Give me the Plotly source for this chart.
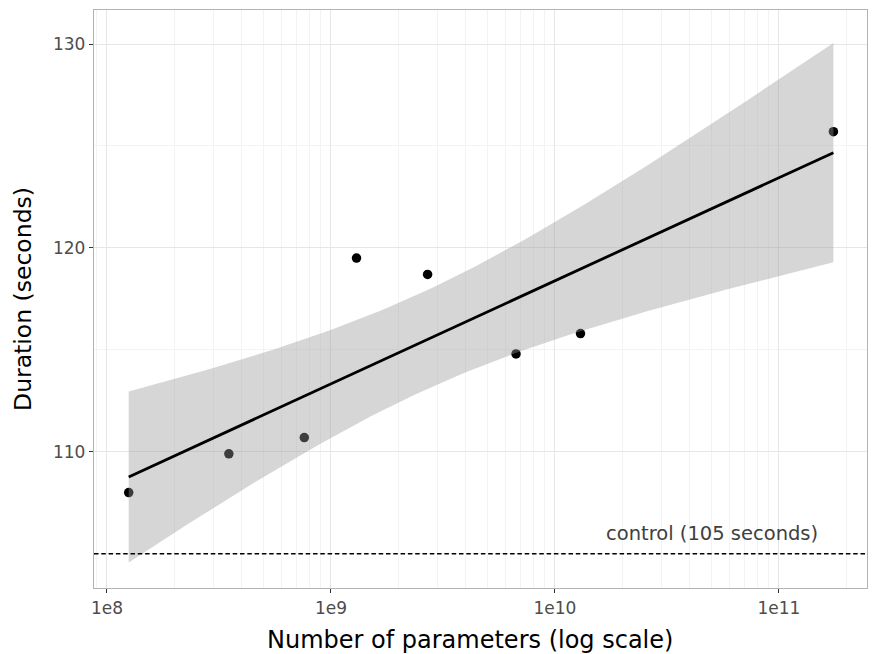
import numpy as np
import plotly.graph_objects as go

# Data
params = [1.25e8, 3.5e8, 7.6e8, 1.3e9, 2.7e9, 6.7e9, 1.3e10, 1.75e11]
duration = [108.0, 109.9, 110.7, 119.5, 118.7, 114.8, 115.8, 125.7]
control_value = 105
control_label = "control (105 seconds)"
x_title = "Number of parameters (log scale)"
y_title = "Duration (seconds)"
x_tick_vals = [1e8, 1e9, 1e10, 1e11]
x_tick_text = ["1e8", "1e9", "1e10", "1e11"]
y_tick_vals = [110, 120, 130]
y_minor_vals = [105, 115, 125]
decades = [1e7, 1e8, 1e9, 1e10, 1e11]

# Linear fit on log10(x) with confidence band (like geom_smooth(method="lm"))
lx = np.log10(np.array(params))
yv = np.array(duration)
n = len(lx)
slope, intercept = np.polyfit(lx, yv, 1)
resid = yv - (slope * lx + intercept)
s = np.sqrt(np.sum(resid ** 2) / (n - 2))
xbar = lx.mean()
sxx = np.sum((lx - xbar) ** 2)
band_mult = 2.07
grid = np.linspace(lx.min(), lx.max(), 80)
fit = slope * grid + intercept
se = s * np.sqrt(1 / n + (grid - xbar) ** 2 / sxx)
upper = fit + band_mult * se
lower = fit - band_mult * se

fig = go.Figure()
fig.add_trace(go.Scatter(x=params, y=duration, mode="markers",
                         marker=dict(color="black", size=9.5), showlegend=False,
                         hoverinfo="skip"))
fig.add_trace(go.Scatter(x=np.concatenate([10 ** grid, 10 ** grid[::-1]]),
                         y=np.concatenate([upper, lower[::-1]]),
                         fill="toself", fillcolor="rgba(153,153,153,0.4)",
                         line=dict(width=0), mode="lines", showlegend=False,
                         hoverinfo="skip"))
fig.add_trace(go.Scatter(x=10 ** grid, y=fit, mode="lines",
                         line=dict(color="black", width=2.8), showlegend=False))

fig.add_hline(y=control_value, line=dict(color="black", width=1.3, dash="4.5px,2.8px"))
fig.add_annotation(x=np.log10(5e10), y=control_value + 1, text=control_label,
                   showarrow=False, font=dict(size=19.5, color="#404040",
                                              family="DejaVu Sans"),
                   xanchor="center", yanchor="middle")
fig.add_annotation(xref="paper", yref="paper", x=0.486, y=-0.09, text=x_title,
                   showarrow=False, font=dict(size=24, color="black",
                                              family="DejaVu Sans"),
                   xanchor="center", yanchor="middle")

minor_x = [d * k for d in decades for k in range(2, 10)]

fig.update_layout(
    width=862, height=646,
    margin=dict(l=86, r=3, t=2, b=66),
    paper_bgcolor="white", plot_bgcolor="white",
    font=dict(family="DejaVu Sans", color="black"),
    xaxis=dict(
        type="log", range=[7.942, 11.393], automargin=False,
        tickmode="array", tickvals=x_tick_vals, ticktext=x_tick_text,
        tickfont=dict(size=17, color="#4d4d4d"),
        ticks="outside", ticklen=4, tickcolor="#333333", tickwidth=1,
        showgrid=True, gridcolor="#e6e6e6", gridwidth=1.1,
        minor=dict(tickmode="array", tickvals=minor_x, showgrid=True,
                   gridcolor="#f3f3f3", gridwidth=0.7, ticks=""),
        showline=True, linecolor="#b3b3b3", linewidth=1.3, mirror=True,
        zeroline=False,
    ),
    yaxis=dict(
        range=[103.32, 131.67], automargin=False,
        tickmode="array", tickvals=y_tick_vals,
        tickfont=dict(size=17, color="#4d4d4d"),
        ticks="outside", ticklen=4, tickcolor="#333333", tickwidth=1,
        showgrid=True, gridcolor="#e6e6e6", gridwidth=1.1,
        minor=dict(tickmode="array", tickvals=y_minor_vals, showgrid=True,
                   gridcolor="#f3f3f3", gridwidth=0.7, ticks=""),
        showline=True, linecolor="#b3b3b3", linewidth=1.3, mirror=True,
        zeroline=False,
        title=dict(text=y_title,
                   font=dict(size=23.5, color="black"), standoff=14),
    ),
)

fig.write_html("out.html")
